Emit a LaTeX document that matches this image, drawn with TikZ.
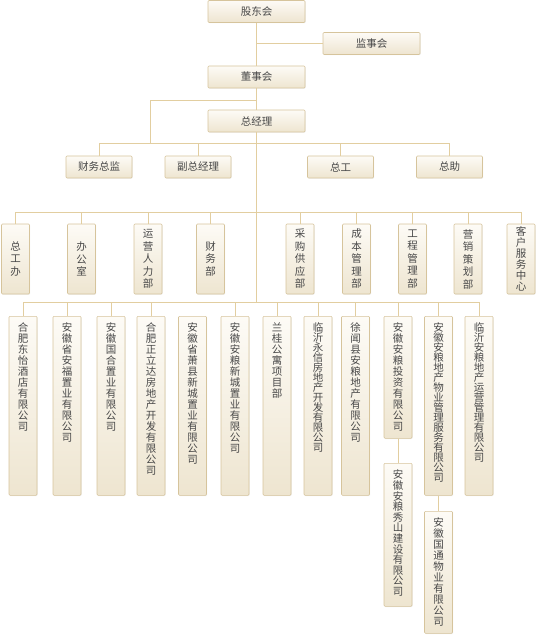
\documentclass[tikz,border=0pt]{standalone}
\usepackage{fontspec}
\usepackage{tikz}
\usetikzlibrary{shadows}
\newfontfamily\cjk{Noto Sans CJK SC}

\definecolor{linetan}{RGB}{226,206,160}
\definecolor{boxline}{RGB}{214,196,156}
\definecolor{boxtop}{RGB}{253,251,246}
\definecolor{boxbot}{RGB}{238,229,208}
\definecolor{textgray}{RGB}{72,72,72}

% one character per line
\newcommand{\vtxt}[2][11pt]{\vtop{\baselineskip=#1\relax\lineskiplimit=-100pt\vtxtchar#2\relax}}
\def\vtxtchar#1{\ifx#1\relax\else\hbox to 12pt{\hss#1\hss}\expandafter\vtxtchar\fi}

\begin{document}
\begin{tikzpicture}[x = 1pt, y = -1pt, line width = 0.8pt, color = linetan,
                    box/.style = {draw = boxline, line width = 0.6pt, rounded corners = 1pt,
                                  top color = boxtop, bottom color = boxbot, inner sep = 0pt,
                                  text = textgray, font = \cjk\fontsize{10.5}{11}\selectfont,
                                  drop shadow = {shadow xshift = 0.7pt, shadow yshift = -0.7pt, opacity = 0.15}},
                    wide/.style = {box, minimum width = 97pt, minimum height = 22pt},
                    mid/.style = {box, minimum width = 66pt, minimum height = 22pt},
                    dept/.style = {box, minimum width = 28pt, minimum height = 70pt},
                    corp/.style = {box, minimum width = 28pt, anchor = north,
                                   text height = 15.5pt, text depth = #1}]

\useasboundingbox (0,0) rectangle (536,636);

% board
\node [wide] (T1) at (256.5,11.5) {股东会};
\node [wide] (T2) at (371.5,43.5) {监事会};
\node [wide] (T3) at (256.5,77) {董事会};
\node [wide] (T4) at (256.5,121) {总经理};

% managers
\node [mid] (M1) at (99,167) {财务总监};
\node [mid] (M2) at (198,167) {副总经理};
\node [mid] (M3) at (340.5,167) {总工};
\node [mid] (M4) at (449.5,167) {总助};

% departments
\node [dept] (D1) at (15.5,259) {\vtxt[12.5pt]{总工办}};
\node [dept] (D2) at (81.5,259) {\vtxt[12.5pt]{办公室}};
\node [dept] (D3) at (148,259) {\vtxt[12.5pt]{运营人力部}};
\node [dept] (D4) at (210.5,259) {\vtxt[12.5pt]{财务部}};
\node [dept] (D5) at (300,259) {\vtxt[12.5pt]{采购供应部}};
\node [dept] (D6) at (356.5,259) {\vtxt[12.5pt]{成本管理部}};
\node [dept] (D7) at (412.5,259) {\vtxt[12.5pt]{工程管理部}};
\node [dept] (D8) at (468,259) {\vtxt[12.5pt]{营销策划部}};
\node [dept] (D9) at (521,259) {\vtxt{客户服务中心}};

% companies
\node [corp = 163.5pt] (C1) at (23,316) {\vtxt{合肥东怡酒店有限公司}};
\node [corp = 163.5pt] (C2) at (67,316) {\vtxt{安徽省安福置业有限公司}};
\node [corp = 163.5pt] (C3) at (111,316) {\vtxt{安徽国合置业有限公司}};
\node [corp = 163.5pt] (C4) at (151,316) {\vtxt{合肥正立达房地产开发有限公司}};
\node [corp = 163.5pt] (C5) at (192.5,316) {\vtxt{安徽省萧县新城置业有限公司}};
\node [corp = 163.5pt] (C6) at (235,316) {\vtxt{安徽安粮新城置业有限公司}};
\node [corp = 163.5pt] (C7) at (277,316) {\vtxt{兰桂公寓项目部}};
\node [corp = 163.5pt] (C8) at (318,316) {\vtxt[10pt]{临沂永信房地产开发有限公司}};
\node [corp = 163.5pt] (C9) at (355.5,316) {\vtxt{徐闻县安粮地产有限公司}};
\node [corp = 106.5pt] (C10) at (398,316) {\vtxt{安徽安粮投资有限公司}};
\node [corp = 163.5pt] (C11) at (438.5,316) {\vtxt[10pt]{安徽安粮地产物业管理服务有限公司}};
\node [corp = 163.5pt] (C12) at (479,316) {\vtxt[10pt]{临沂安粮地产运营管理有限公司}};

% sub companies
\node [corp = 127.5pt] (S1) at (398,463) {\vtxt[10.6pt]{安徽安粮秀山建设有限公司}};
\node [corp = 106.5pt] (S2) at (438.5,511) {\vtxt{安徽国通物业有限公司}};

% rails
\coordinate (J) at (150,100);
\coordinate (LM) at (0,143.6);
\coordinate (LD) at (0,212);
\coordinate (LC) at (0,302);

% trunk
\draw (T1) -- (T3);
\draw (T3) -- (T4);
\draw (T4.south) -- (T4.south |- LC);
\draw (T2.west) -- (T2.west -| T1.south);
\draw (T3.south |- J) -- (J) -- (J |- LM);

% managers line
\draw (M1.north) -- (M1.north |- LM) -- (M4.north |- LM) -- (M4.north);
\draw (M2.north) -- (M2.north |- LM);
\draw (M3.north) -- (M3.north |- LM);

% departments line
\draw (D1.north) -- (D1.north |- LD) -- (D9.north |- LD) -- (D9.north);
\draw (D2.north) -- (D2.north |- LD);
\draw (D3.north) -- (D3.north |- LD);
\draw (D4.north) -- (D4.north |- LD);
\draw (D5.north) -- (D5.north |- LD);
\draw (D6.north) -- (D6.north |- LD);
\draw (D7.north) -- (D7.north |- LD);
\draw (D8.north) -- (D8.north |- LD);

% companies line
\draw (C1.north) -- (C1.north |- LC) -- (C12.north |- LC) -- (C12.north);
\draw (C2.north) -- (C2.north |- LC);
\draw (C3.north) -- (C3.north |- LC);
\draw (C4.north) -- (C4.north |- LC);
\draw (C6.north) -- (C6.north |- LC);
\draw (C7.north) -- (C7.north |- LC);
\draw (C8.north) -- (C8.north |- LC);
\draw (C9.north) -- (C9.north |- LC);
\draw (C10.north) -- (C10.north |- LC);
\draw (C11.north) -- (C11.north |- LC);

\draw (C10) -- (S1);
\draw (C11) -- (S2);
\end{tikzpicture}
\end{document}
